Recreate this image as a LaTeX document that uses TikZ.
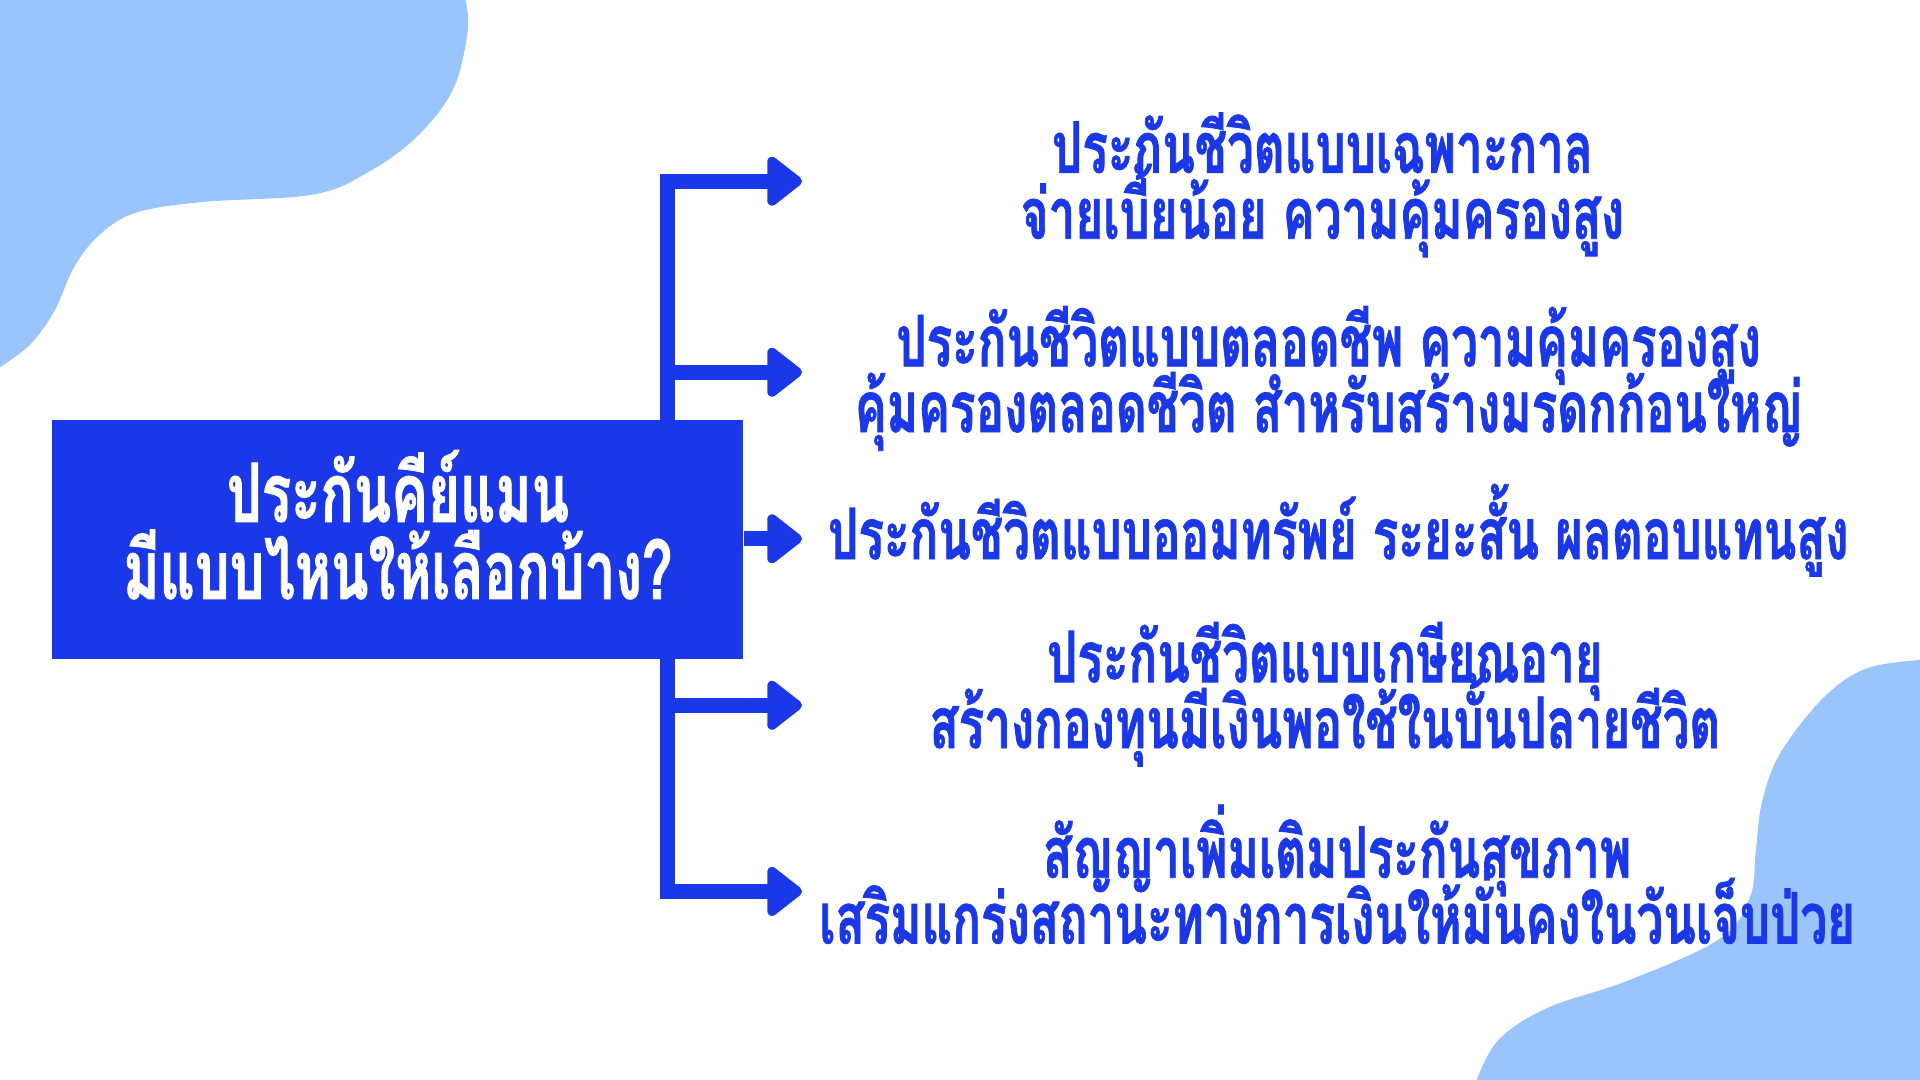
\documentclass[tikz,border=0pt]{standalone}
\usepackage{fontspec}
\newfontfamily\thaifont[Script=Thai, FakeStretch=0.67, BoldFeatures={FakeBold=1}]{Loma}
\usetikzlibrary{arrows.meta, positioning}
\definecolor{keyblue}{HTML}{1B38E8}
\definecolor{blobblue}{HTML}{9AC5FC}
\newcommand\tightlines{\lineskiplimit=-50pt\relax}
\tikzstyle{blob} = [fill=blobblue, draw=none]
\tikzstyle{keybox} = [
  rectangle,
  minimum width=5.64cm,
  minimum height=1.95cm,
  fill=keyblue
]
\tikzstyle{keytitle} = [
  align=center,
  text=white,
  font={\thaifont\bfseries\fontsize{19}{17.9}\selectfont\tightlines}
]
\tikzstyle{option} = [
  align=center,
  text=keyblue,
  font={\thaifont\bfseries\fontsize{16.5}{15.3}\selectfont\tightlines}
]
\tikzstyle{arrow} = [line width=0.12cm, draw=keyblue, line join=miter, -{Triangle[round, length=0.31cm, width=0.46cm, line width=0.09cm]}]

\begin{document}
\begin{tikzpicture}[x=0.01cm, y=-0.01cm]
    \useasboundingbox (0,0) rectangle (1568,882);
    % background blobs
    \fill [blob] (0,0) -- plot[smooth, tension=0.6] coordinates {(380,0) (382,25) (370,73) (340,112) (300,141) (255,159) (165,165) (110,174) (80,193) (60,219) (45,253) (25,281) (0,300)} -- cycle;
    \fill [blob] (1568,882) -- plot[smooth, tension=0.6] coordinates {(1568,539) (1524,546) (1489,570) (1454,615) (1439,655) (1434,694) (1429,733) (1404,767) (1329,801) (1264,823) (1224,849) (1206,882)} -- cycle;

    \coordinate (spine) at (545,440);
    \coordinate (tip-1) at (655,148);
    \coordinate (tip-2) at (655,304);
    \coordinate (tip-3) at (655,440);
    \coordinate (tip-4) at (655,576);
    \coordinate (tip-5) at (655,728);

    \draw [arrow] (spine) -- (spine |- tip-1) -- (tip-1);
    \draw [arrow] (spine) -- (spine |- tip-5) -- (tip-5);
    \draw [arrow] (spine |- tip-2) -- (tip-2);
    \draw [arrow] (spine |- tip-4) -- (tip-4);

    \node (key-man) [keybox] at (325,440.5) {};
    \node (key-man-title) [keytitle] at ([yshift=0.12cm] key-man.center) {ประกันคีย์แมน\\มีแบบไหนให้เลือกบ้าง?};
    \draw [arrow] (key-man.east |- tip-3) -- (tip-3);

    \node (term-life) [option] at (1080,151) {ประกันชีวิตแบบเฉพาะกาล\\จ่ายเบี้ยน้อย ความคุ้มครองสูง};
    \node (whole-life) [option] at (1085,309) {ประกันชีวิตแบบตลอดชีพ ความคุ้มครองสูง\\คุ้มครองตลอดชีวิต สำหรับสร้างมรดกก้อนใหญ่};
    \node (endowment) [option] at (1093,433) {ประกันชีวิตแบบออมทรัพย์ ระยะสั้น ผลตอบแทนสูง};
    \node (pension) [option] at (1082,567) {ประกันชีวิตแบบเกษียณอายุ\\สร้างกองทุนมีเงินพอใช้ในบั้นปลายชีวิต};
    \node (health-rider) [option] at (1092,714) {สัญญาเพิ่มเติมประกันสุขภาพ\\เสริมแกร่งสถานะทางการเงินให้มั่นคงในวันเจ็บป่วย};
\end{tikzpicture}
\end{document}
